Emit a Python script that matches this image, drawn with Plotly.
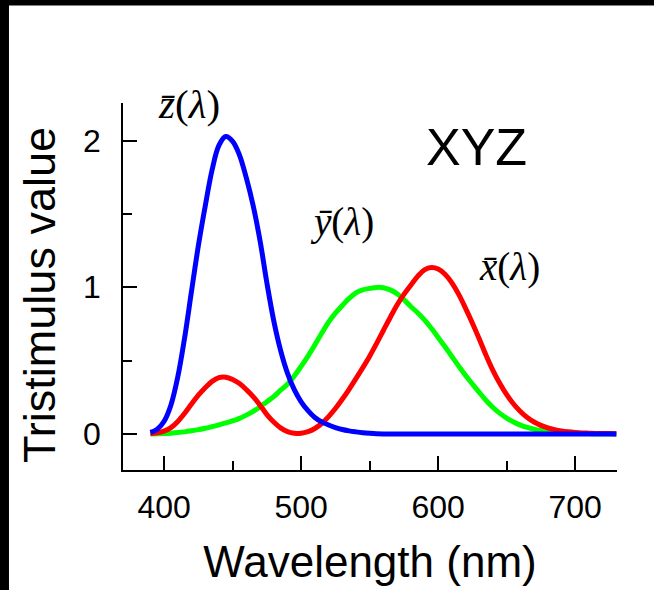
import plotly.graph_objects as go

wavelength = list(range(390, 735, 5))

x_bar = [0.002, 0.007, 0.019, 0.043, 0.085, 0.141, 0.204, 0.265, 0.315, 0.358,
         0.384, 0.387, 0.371, 0.343, 0.302, 0.254, 0.196, 0.132, 0.081, 0.041,
         0.016, 0.005, 0.004, 0.015, 0.037, 0.071, 0.118, 0.173, 0.236, 0.304,
         0.377, 0.452, 0.530, 0.616, 0.705, 0.794, 0.879, 0.951, 1.014, 1.074,
         1.119, 1.134, 1.124, 1.089, 1.030, 0.951, 0.856, 0.755, 0.647, 0.535,
         0.432, 0.344, 0.268, 0.204, 0.153, 0.112, 0.081, 0.058, 0.041, 0.029,
         0.020, 0.014, 0.010, 0.007, 0.005, 0.003, 0.002, 0.002, 0.001]

y_bar = [0.000, 0.001, 0.002, 0.005, 0.009, 0.014, 0.021, 0.029, 0.039, 0.050,
         0.062, 0.075, 0.089, 0.106, 0.128, 0.153, 0.185, 0.220, 0.254, 0.298,
         0.339, 0.395, 0.461, 0.531, 0.607, 0.686, 0.762, 0.823, 0.875, 0.924,
         0.962, 0.982, 0.992, 0.999, 0.997, 0.982, 0.956, 0.915, 0.869, 0.826,
         0.777, 0.720, 0.658, 0.594, 0.528, 0.462, 0.398, 0.340, 0.283, 0.228,
         0.180, 0.140, 0.108, 0.081, 0.060, 0.044, 0.032, 0.023, 0.016, 0.011,
         0.008, 0.005, 0.004, 0.003, 0.002, 0.001, 0.001, 0.001, 0.000]

z_bar = [0.010, 0.032, 0.086, 0.197, 0.389, 0.657, 0.973, 1.283, 1.553, 1.799,
         1.967, 2.027, 1.995, 1.901, 1.745, 1.555, 1.318, 1.030, 0.772, 0.570,
         0.415, 0.302, 0.219, 0.159, 0.112, 0.082, 0.061, 0.043, 0.030, 0.021,
         0.014, 0.008, 0.004, 0.001, 0.000, 0.000, 0.000, 0.000, 0.000, 0.000,
         0.000, 0.000, 0.000, 0.000, 0.000, 0.000, 0.000, 0.000, 0.000, 0.000,
         0.000, 0.000, 0.000, 0.000, 0.000, 0.000, 0.000, 0.000, 0.000, 0.000,
         0.000, 0.000, 0.000, 0.000, 0.000, 0.000, 0.000, 0.000, 0.000]

x_ticks = [400, 500, 600, 700]
y_ticks = [0, 1, 2]

fig = go.Figure()
fig.add_trace(go.Scatter(x=wavelength, y=y_bar, mode="lines",
                         line=dict(color="#00ff00", width=5, shape="spline"), name="y"))
fig.add_trace(go.Scatter(x=wavelength, y=x_bar, mode="lines",
                         line=dict(color="#ff0000", width=5, shape="spline"), name="x"))
fig.add_trace(go.Scatter(x=wavelength, y=z_bar, mode="lines",
                         line=dict(color="#0000ff", width=5, shape="spline"), name="z"))

sans = "Liberation Sans, Arial, sans-serif"
serif = "Liberation Serif, Times New Roman, serif"

fig.update_layout(
    width=654, height=590,
    margin=dict(l=123, r=37, t=103, b=118),
    paper_bgcolor="white", plot_bgcolor="white",
    showlegend=False,
    font=dict(family=sans, color="black"),
    xaxis=dict(
        range=[370, 730.5], tickvals=x_ticks, ticks="inside", ticklen=14, tickwidth=1.5,
        tickcolor="black", showline=True, linecolor="black", linewidth=1.5,
        showgrid=False, zeroline=False, tickfont=dict(size=32, family=sans),
        ticklabelstandoff=8,
        minor=dict(tickvals=[450, 550, 650], ticks="inside", ticklen=9, tickwidth=1.5,
                   tickcolor="black", showgrid=False),
        title=dict(text="Wavelength (nm)", font=dict(size=44, family=sans), standoff=22),
    ),
    yaxis=dict(
        range=[-0.246, 2.256], tickvals=y_ticks, ticks="inside", ticklen=14, tickwidth=1.5,
        tickcolor="black", showline=True, linecolor="black", linewidth=1.5,
        showgrid=False, zeroline=False, tickfont=dict(size=32, family=sans),
        ticklabelstandoff=14,
        minor=dict(tickvals=[0.5, 1.5], ticks="inside", ticklen=9, tickwidth=1.5,
                   tickcolor="black", showgrid=False),
    ),
    shapes=[
        dict(type="rect", xref="paper", yref="paper",
             x0=-0.5, x1=1.5, y0=1.2656, y1=1.5, fillcolor="black", line=dict(width=0),
             layer="above"),
        dict(type="rect", xref="paper", yref="paper",
             x0=-0.5, x1=-0.2308, y0=-1, y1=2, fillcolor="black", line=dict(width=0),
             layer="above"),
    ],
    annotations=[
        dict(x=-0.168, y=0.477, xref="paper", yref="paper", text="Tristimulus value",
             textangle=-90, showarrow=False, xanchor="center", yanchor="middle",
             font=dict(size=45, family=sans, color="black")),
        dict(x=628, y=1.954, xref="x", yref="y", text="XYZ", showarrow=False,
             font=dict(size=52, family=sans, color="black")),
        dict(x=418, y=2.25, xref="x", yref="y", text="<i>z\u0304</i>(<i>\u03bb</i>)",
             showarrow=False, font=dict(size=41, family=serif, color="black")),
        dict(x=530, y=1.445, xref="x", yref="y", text="<i>y\u0304</i>(<i>\u03bb</i>)",
             showarrow=False, font=dict(size=39, family=serif, color="black")),
        dict(x=652, y=1.14, xref="x", yref="y", text="<i>x\u0304</i>(<i>\u03bb</i>)",
             showarrow=False, font=dict(size=39, family=serif, color="black")),
    ],
)

fig.write_html(
    "out.html",
    config={"displayModeBar": False},
    post_script="document.body.style.margin='0';document.body.style.overflow='hidden';",
)
